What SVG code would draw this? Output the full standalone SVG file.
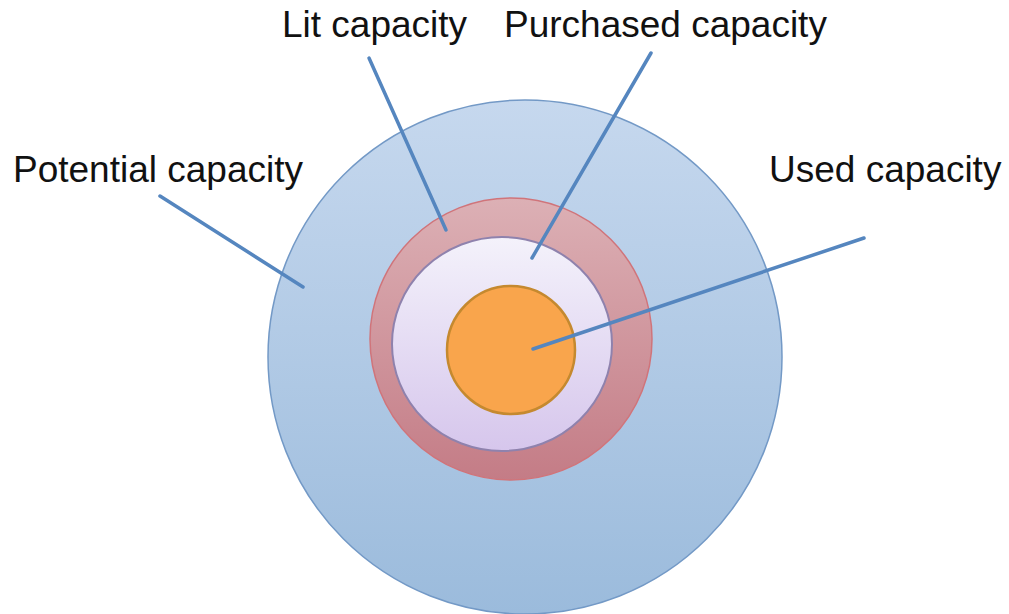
<svg xmlns="http://www.w3.org/2000/svg" width="1009" height="614" viewBox="0 0 1009 614">
<defs>
<linearGradient id="gBlue" x1="0" y1="0" x2="0" y2="1">
<stop offset="0" stop-color="#c6d8ee"/>
<stop offset="1" stop-color="#9bbbdc"/>
</linearGradient>
<linearGradient id="gRed" x1="0" y1="0" x2="0" y2="1">
<stop offset="0" stop-color="#dcb0b5"/>
<stop offset="1" stop-color="#c47c86"/>
</linearGradient>
<linearGradient id="gLav" x1="0" y1="0" x2="0" y2="1">
<stop offset="0" stop-color="#f4f2fb"/>
<stop offset="1" stop-color="#d6c6ec"/>
</linearGradient>
</defs>
<style>
.lbl{font-family:"Liberation Sans",Arial,sans-serif;font-size:37px;fill:#111}
.con{stroke:#5586bf;stroke-width:3.5;stroke-linecap:round;fill:none}
</style>
<rect width="1009" height="614" fill="#ffffff"/>
<g id="potential">
<circle cx="525" cy="357" r="257" fill="url(#gBlue)" stroke="#7399c6" stroke-width="1.5"/>
<text class="lbl" x="13" y="182">Potential capacity</text>
</g>
<g id="lit">
<circle cx="511" cy="339" r="141" fill="url(#gRed)" stroke="#d0747a" stroke-width="1.5"/>
<text class="lbl" x="282" y="37">Lit capacity</text>
</g>
<g id="purchased">
<ellipse cx="502" cy="344" rx="110" ry="107" fill="url(#gLav)" stroke="#8f82ad" stroke-width="2"/>
<text class="lbl" x="504" y="37">Purchased capacity</text>
</g>
<g id="used">
<circle cx="511" cy="350" r="64" fill="#f9a54c" stroke="#c5892f" stroke-width="2.5"/>
<text class="lbl" x="769" y="182">Used capacity</text>
</g>
<g id="connectors">
<line class="con" x1="160" y1="196" x2="303" y2="287"/>
<line class="con" x1="369" y1="58" x2="446" y2="230"/>
<line class="con" x1="651" y1="53" x2="532" y2="258"/>
<line class="con" x1="864" y1="238" x2="533" y2="349"/>
</g>
</svg>
